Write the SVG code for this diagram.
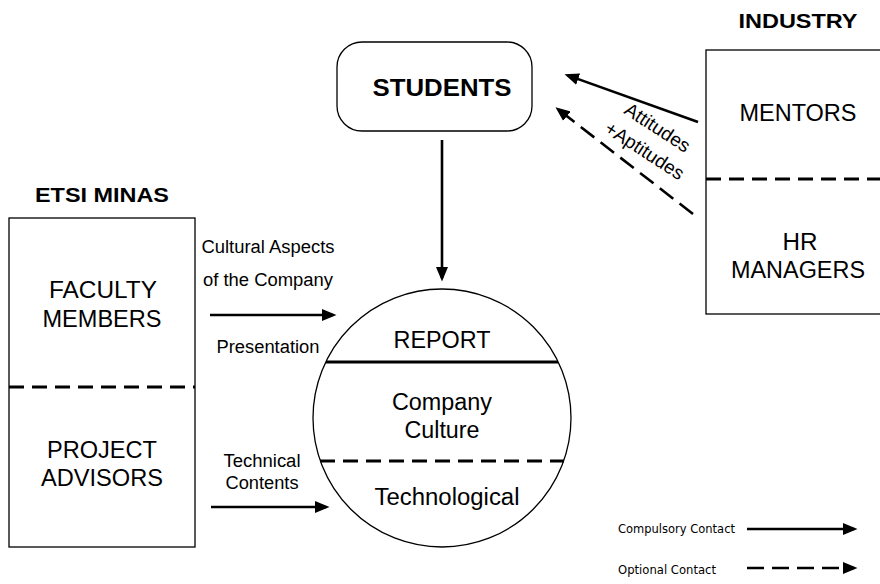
<svg xmlns="http://www.w3.org/2000/svg" width="880" height="584" viewBox="0 0 880 584">
<style>
.box{fill:#fff;stroke:#000;stroke-width:1.3}
.t{font-family:"Liberation Sans",Arial,sans-serif;fill:#000;text-anchor:middle}
.b{font-weight:bold}
.big{font-size:23px}
.mid{font-size:18px}
.leg{font-family:"DejaVu Sans",Verdana,sans-serif;font-size:11.5px;fill:#000}
.sol{stroke:#000;stroke-width:2.6;fill:none}
.dash{stroke:#000;stroke-width:2.6;fill:none;stroke-dasharray:17 8}
.div{stroke:#000;stroke-width:3;fill:none}
.divd{stroke:#000;stroke-width:3;fill:none;stroke-dasharray:15 8}
</style>
<defs>
<marker id="ah" markerUnits="userSpaceOnUse" markerWidth="15" markerHeight="13" refX="11" refY="6.5" orient="auto" viewBox="0 0 15 13">
<path d="M0,0.5 L14.5,6.5 L0,12.5 z" fill="#000"/>
</marker>
</defs>

<g id="students">
<rect class="box" x="337" y="42" width="195" height="89" rx="25" ry="25"/>
<text class="t b" x="442" y="96" font-size="24" textLength="139" lengthAdjust="spacingAndGlyphs">STUDENTS</text>
</g>

<g id="industry">
<text class="t b" x="798" y="28" font-size="21" textLength="119" lengthAdjust="spacingAndGlyphs">INDUSTRY</text>
<rect class="box" x="706" y="50" width="200" height="264"/>
<line class="divd" x1="706" y1="179" x2="880" y2="179"/>
<text class="t big" x="798" y="121" textLength="117" lengthAdjust="spacingAndGlyphs">MENTORS</text>
<text class="t big" x="800" y="250" textLength="35" lengthAdjust="spacingAndGlyphs">HR</text>
<text class="t big" x="798" y="278" textLength="134" lengthAdjust="spacingAndGlyphs">MANAGERS</text>
</g>

<g id="etsi">
<text class="t b" x="102" y="202" font-size="21" textLength="134" lengthAdjust="spacingAndGlyphs">ETSI MINAS</text>
<rect class="box" x="9" y="218" width="186" height="329"/>
<line class="divd" x1="9" y1="387" x2="195" y2="387"/>
<text class="t big" x="103" y="298" textLength="108" lengthAdjust="spacingAndGlyphs">FACULTY</text>
<text class="t big" x="102" y="327" textLength="119" lengthAdjust="spacingAndGlyphs">MEMBERS</text>
<text class="t big" x="102" y="458" textLength="110" lengthAdjust="spacingAndGlyphs">PROJECT</text>
<text class="t big" x="102" y="486" textLength="122" lengthAdjust="spacingAndGlyphs">ADVISORS</text>
</g>

<g id="report">
<circle class="box" cx="442" cy="418" r="129"/>
<line class="div" x1="326" y1="362" x2="558" y2="362"/>
<line class="divd" x1="320" y1="461" x2="564" y2="461"/>
<text class="t big" x="442" y="348" textLength="97" lengthAdjust="spacingAndGlyphs">REPORT</text>
<text class="t big" x="442" y="410" textLength="100" lengthAdjust="spacingAndGlyphs">Company</text>
<text class="t big" x="442" y="438" textLength="75" lengthAdjust="spacingAndGlyphs">Culture</text>
<text class="t big" x="447" y="505" textLength="145" lengthAdjust="spacingAndGlyphs">Technological</text>
</g>

<g id="connectors">
<line class="sol" x1="698" y1="122" x2="567.8" y2="75.4" marker-end="url(#ah)"/>
<line class="dash" x1="693" y1="214" x2="558.2" y2="109.4" marker-end="url(#ah)"/>
<line class="sol" x1="442" y1="140" x2="442" y2="278" marker-end="url(#ah)"/>
<line class="sol" x1="210" y1="315" x2="333" y2="315" marker-end="url(#ah)"/>
<line class="sol" x1="211" y1="507" x2="326" y2="507" marker-end="url(#ah)"/>
<text class="t mid" x="268" y="253" textLength="133" lengthAdjust="spacingAndGlyphs">Cultural Aspects</text>
<text class="t mid" x="268" y="286" textLength="130" lengthAdjust="spacingAndGlyphs">of the Company</text>
<text class="t mid" x="268" y="353" textLength="103" lengthAdjust="spacingAndGlyphs">Presentation</text>
<text class="t mid" x="262" y="467" textLength="77" lengthAdjust="spacingAndGlyphs">Technical</text>
<text class="t mid" x="262" y="489" textLength="73" lengthAdjust="spacingAndGlyphs">Contents</text>
<text class="t" font-size="19" transform="translate(654,133) rotate(33)">Attitudes</text>
<text class="t" font-size="19" transform="translate(641,156) rotate(33)">+Aptitudes</text>
</g>

<g id="legend">
<text class="leg" x="618" y="533" textLength="117" lengthAdjust="spacingAndGlyphs">Compulsory Contact</text>
<line class="sol" x1="747" y1="529" x2="854" y2="529" marker-end="url(#ah)"/>
<text class="leg" x="618" y="574" textLength="98" lengthAdjust="spacingAndGlyphs">Optional Contact</text>
<line class="dash" x1="747" y1="568" x2="854" y2="568" marker-end="url(#ah)"/>
</g>
</svg>
